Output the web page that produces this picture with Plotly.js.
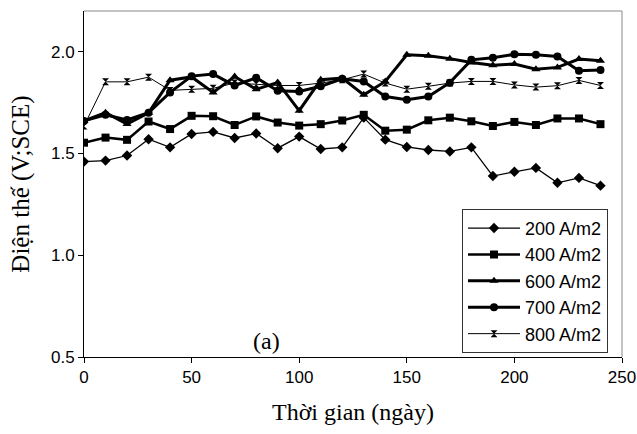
<!DOCTYPE html>
<html>
<head>
<meta charset="utf-8">
<script src="https://cdn.plot.ly/plotly-3.0.1.min.js"></script>
<style>html,body{margin:0;padding:0;background:#fff;}#chart{width:637px;height:434px;}</style>
</head>
<body>
<div id="chart"></div>
<script>
const days = [0,10,20,30,40,50,60,70,80,90,100,110,120,130,140,150,160,170,180,190,200,210,220,230,240];
const s200 = [1.46,1.465,1.49,1.57,1.53,1.596,1.606,1.576,1.598,1.526,1.583,1.522,1.53,1.676,1.568,1.532,1.517,1.51,1.53,1.389,1.41,1.429,1.356,1.38,1.342];
const s400 = [1.553,1.578,1.567,1.657,1.62,1.685,1.683,1.64,1.682,1.652,1.637,1.644,1.662,1.69,1.612,1.617,1.663,1.676,1.658,1.635,1.655,1.64,1.672,1.672,1.644];
const s600 = [1.66,1.70,1.645,1.70,1.86,1.876,1.80,1.878,1.815,1.849,1.71,1.862,1.87,1.788,1.854,1.985,1.98,1.966,1.947,1.933,1.94,1.914,1.923,1.964,1.955];
const s700 = [1.66,1.69,1.665,1.70,1.80,1.88,1.89,1.834,1.872,1.808,1.805,1.83,1.867,1.854,1.78,1.764,1.78,1.848,1.96,1.97,1.987,1.985,1.977,1.906,1.91];
const s800 = [1.635,1.852,1.852,1.875,1.81,1.815,1.82,1.846,1.84,1.834,1.834,1.846,1.862,1.89,1.846,1.816,1.83,1.846,1.854,1.854,1.837,1.826,1.833,1.859,1.834];
const seriesNames = ["200 A/m2","400 A/m2","600 A/m2","700 A/m2","800 A/m2"];
const xTicks = [0,50,100,150,200,250];
const yTicks = [0.5,1.0,1.5,2.0];

const styles = [
  {sym:'diamond', size:8, w:1.3},
  {sym:'square', size:8, w:2.5},
  {sym:'triangle-up', size:8, w:3},
  {sym:'circle', size:8, w:3},
  {sym:'hourglass', size:7, w:1}
];
const data = [s200,s400,s600,s700,s800].map((ys,i)=>({
  x: days, y: ys, name: seriesNames[i], type:'scatter', mode:'lines+markers',
  line:{color:'#000', width:styles[i].w},
  marker:{color:'#000', symbol:styles[i].sym, size:styles[i].size}
}));

const layout = {
  width:637, height:434,
  margin:{l:84, r:15, t:11, b:77},
  paper_bgcolor:'#fff', plot_bgcolor:'#fff',
  font:{family:'"Liberation Sans", Arial, sans-serif', color:'#000', size:17},
  xaxis:{
    range:[0,250], tickvals:xTicks, ticktext:xTicks.map(String),
    showgrid:false, zeroline:false, showline:true, linecolor:'#000', linewidth:1,
    ticks:'outside', ticklen:5, tickcolor:'#000',
    tickfont:{size:17, family:'"Liberation Sans", Arial, sans-serif'},
    title:{text:'Thời gian (ngày)', font:{family:'"Liberation Serif", "Times New Roman", serif', size:24}, standoff:16}
  },
  yaxis:{
    range:[0.5,2.2], tickvals:yTicks, ticktext:yTicks.map(v=>v.toFixed(1)),
    showgrid:false, zeroline:false, showline:true, linecolor:'#000', linewidth:1,
    ticks:'outside', ticklen:5, tickcolor:'#000',
    tickfont:{size:17, family:'"Liberation Sans", Arial, sans-serif'},
    title:{text:'Điện thế (V;SCE)', font:{family:'"Liberation Serif", "Times New Roman", serif', size:25}, standoff:14}
  },
  showlegend:true,
  legend:{
    x:0.974, y:0.012, xanchor:'right', yanchor:'bottom',
    bgcolor:'#fff', bordercolor:'#333', borderwidth:1,
    font:{size:18, family:'"Liberation Sans", Arial, sans-serif'},
    itemwidth:52, tracegroupgap:0, entrywidth:165, entrywidthmode:'pixels'
  },
  shapes:[
    {type:'line', xref:'paper', yref:'paper', x0:0, x1:1, y0:1, y1:1, line:{color:'#888', width:1}},
    {type:'line', xref:'paper', yref:'paper', x0:1, x1:1, y0:0, y1:1, line:{color:'#888', width:1}}
  ],
  annotations:[
    {text:'(a)', xref:'x', yref:'paper', x:85, y:0.045, yanchor:'middle', showarrow:false,
     font:{family:'"Liberation Serif", "Times New Roman", serif', size:24, color:'#000'}}
  ]
};
Plotly.newPlot('chart', data, layout, {displayModeBar:false, staticPlot:true});
</script>
</body>
</html>
